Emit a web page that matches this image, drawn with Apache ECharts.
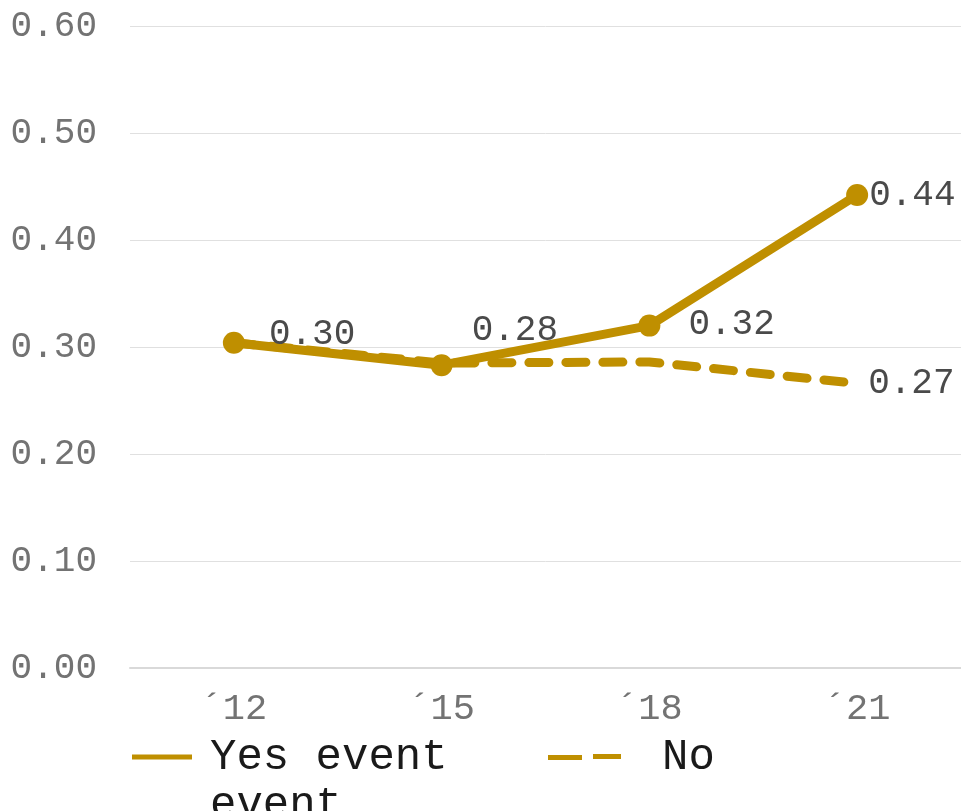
<!DOCTYPE html>
<html>
<head>
<meta charset="utf-8">
<script src="https://cdn.jsdelivr.net/npm/echarts@6/dist/echarts.min.js"></script>
<style>
  html, body { margin: 0; padding: 0; background: #ffffff; }
  #main { width: 961px; height: 811px; }
</style>
</head>
<body>
<div id="main"></div>
<script>
var categories = ['\u00b412', '\u00b415', '\u00b418', '\u00b421'];
var yesValues = [0.304, 0.283, 0.320, 0.442];
var noValues = [0.304, 0.285, 0.286, 0.266];
var yTicks = [0, 0.1, 0.2, 0.3, 0.4, 0.5, 0.6];

// label nudges for the "Yes event" points
var yesLabelOffsets = [[19, -8], [14, -35], [23, -1], [-4, 0]];

var FONT = "'Liberation Mono', 'Courier New', monospace";
var GOLD = '#bf8f00';

var chart = echarts.init(document.getElementById('main'), null, { renderer: 'canvas' });

var option = {
    backgroundColor: '#ffffff',
    animation: false,
    textStyle: { fontFamily: FONT },
    grid: {
        left: 130,
        right: 0,
        top: 26,
        bottom: 143,
        containLabel: false
    },
    legend: [{
        data: [{ name: 'Yes event', icon: 'path://M0,0H60V5H0Z' }],
        left: 127,
        top: 727,
        itemWidth: 60,
        itemHeight: 5,
        textStyle: { fontFamily: FONT, fontSize: 44, color: '#1a1a1a', lineHeight: 50, padding: [0, 0, 0, 13] }
    }, {
        data: [{ name: 'No', icon: 'path://M0,1H34V6H0Z M45,0H73V5H45Z' }],
        left: 543,
        top: 727,
        itemWidth: 73,
        itemHeight: 6,
        textStyle: { fontFamily: FONT, fontSize: 44, color: '#1a1a1a', lineHeight: 50, padding: [0, 0, 0, 36] }
    }],
    graphic: [{
        type: 'text',
        left: 210,
        top: 783,
        style: { text: 'event', font: '44px ' + FONT, fill: '#1a1a1a' }
    }],
    xAxis: {
        type: 'category',
        data: categories,
        boundaryGap: true,
        axisTick: { show: false },
        axisLine: { show: true, lineStyle: { color: '#d9d9d9', width: 2 } },
        axisLabel: { fontFamily: FONT, fontSize: 37, color: '#737373', margin: 23 }
    },
    yAxis: {
        type: 'value',
        min: yTicks[0],
        max: yTicks[yTicks.length - 1],
        interval: 0.1,
        axisLine: { show: false },
        axisTick: { show: false },
        axisLabel: {
            fontFamily: FONT, fontSize: 36, color: '#737373', margin: 33,
            formatter: function (v) { return v.toFixed(2); }
        },
        splitLine: { lineStyle: { color: '#e0e0e0', width: 1 } }
    },
    series: [{
        name: 'No',
        type: 'line',
        data: noValues,
        showSymbol: false,
        symbol: 'none',
        color: GOLD,
        lineStyle: { width: 9, type: [20, 17], cap: 'round', color: GOLD },
        endLabel: {
            show: true,
            distance: 11,
            fontFamily: FONT,
            fontSize: 36,
            color: '#4a4a4a',
            formatter: function (p) { return p.value.toFixed(2); }
        },
        z: 2
    }, {
        name: 'Yes event',
        type: 'line',
        data: yesValues.map(function (v, i) {
            return { value: v, label: { offset: yesLabelOffsets[i] } };
        }),
        symbol: 'circle',
        symbolSize: 22,
        color: GOLD,
        itemStyle: { color: GOLD },
        lineStyle: { width: 9, color: GOLD, cap: 'round' },
        label: {
            show: true,
            position: 'right',
            distance: 5,
            fontFamily: FONT,
            fontSize: 36,
            color: '#4a4a4a',
            formatter: function (p) { return p.value.toFixed(2); }
        },
        z: 3
    }]
};

chart.setOption(option);
</script>
</body>
</html>
